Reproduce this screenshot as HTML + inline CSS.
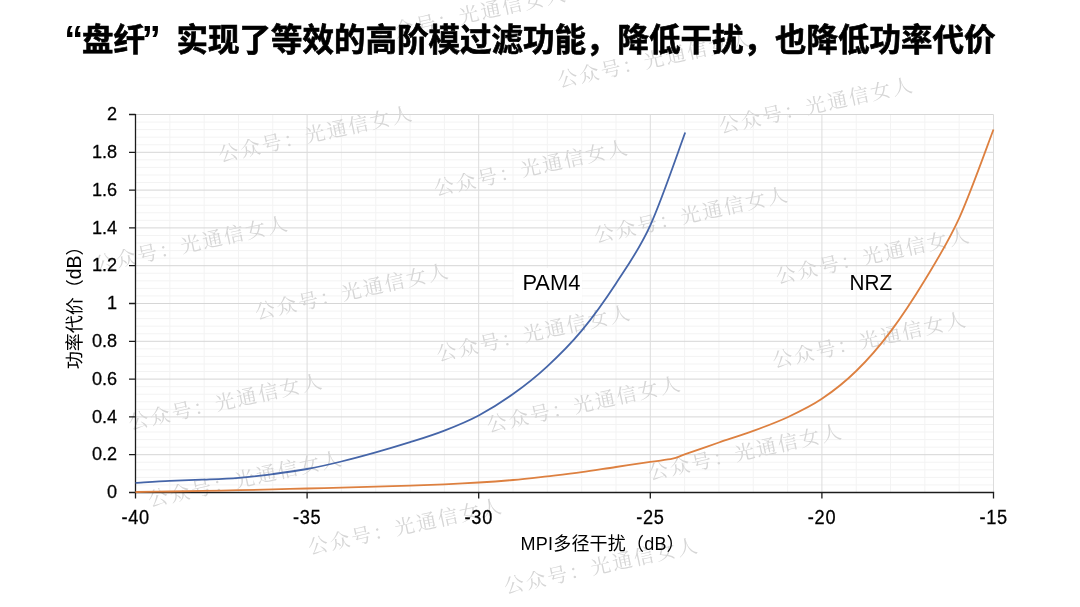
<!DOCTYPE html>
<html lang="zh-CN"><head><meta charset="utf-8"><title>盘纤 MPI 功率代价</title>
<style>
html,body{margin:0;padding:0;background:#fff;}
body{width:1080px;height:607px;overflow:hidden;position:relative;font-family:"Liberation Sans","Noto Sans CJK SC",sans-serif;}
svg{position:absolute;left:0;top:0;display:block;}
.t{font-family:"Liberation Sans","Noto Sans CJK SC",sans-serif;fill:#000;}
.n{stroke:#000;stroke-width:0.25px;}
.ttl{font-family:"Liberation Sans","Noto Sans CJK SC",sans-serif;font-weight:bold;fill:#000;font-size:31.5px;}
.wm{font-family:"Liberation Serif","Noto Serif CJK SC",serif;font-size:20px;fill:#d6d6d6;}
</style></head><body>
<svg width="1080" height="607" viewBox="0 0 1080 607">
<rect x="0" y="0" width="1080" height="607" fill="#ffffff"/>
<path d="M135.50,484.94H993.50M135.50,477.38H993.50M135.50,469.82H993.50M135.50,462.26H993.50M135.50,447.14H993.50M135.50,439.58H993.50M135.50,432.02H993.50M135.50,424.46H993.50M135.50,409.34H993.50M135.50,401.78H993.50M135.50,394.22H993.50M135.50,386.66H993.50M135.50,371.54H993.50M135.50,363.98H993.50M135.50,356.42H993.50M135.50,348.86H993.50M135.50,333.74H993.50M135.50,326.18H993.50M135.50,318.62H993.50M135.50,311.06H993.50M135.50,295.94H993.50M135.50,288.38H993.50M135.50,280.82H993.50M135.50,273.26H993.50M135.50,258.14H993.50M135.50,250.58H993.50M135.50,243.02H993.50M135.50,235.46H993.50M135.50,220.34H993.50M135.50,212.78H993.50M135.50,205.22H993.50M135.50,197.66H993.50M135.50,182.54H993.50M135.50,174.98H993.50M135.50,167.42H993.50M135.50,159.86H993.50M135.50,144.74H993.50M135.50,137.18H993.50M135.50,129.62H993.50M135.50,122.06H993.50" stroke="#f3f3f3" stroke-width="1" fill="none"/>
<path d="M169.82,114.50V492.50M204.14,114.50V492.50M238.46,114.50V492.50M272.78,114.50V492.50M341.42,114.50V492.50M375.74,114.50V492.50M410.06,114.50V492.50M444.38,114.50V492.50M513.02,114.50V492.50M547.34,114.50V492.50M581.66,114.50V492.50M615.98,114.50V492.50M684.62,114.50V492.50M718.94,114.50V492.50M753.26,114.50V492.50M787.58,114.50V492.50M856.22,114.50V492.50M890.54,114.50V492.50M924.86,114.50V492.50M959.18,114.50V492.50" stroke="#f3f3f3" stroke-width="1" fill="none"/>
<path d="M135.50,454.70H993.50M135.50,416.90H993.50M135.50,379.10H993.50M135.50,341.30H993.50M135.50,303.50H993.50M135.50,265.70H993.50M135.50,227.90H993.50M135.50,190.10H993.50M135.50,152.30H993.50M135.50,114.50H993.50" stroke="#d6d6d6" stroke-width="1" fill="none"/>
<path d="M307.10,114.50V492.50M478.70,114.50V492.50M650.30,114.50V492.50M821.90,114.50V492.50M993.50,114.50V492.50" stroke="#dcdcdc" stroke-width="1" fill="none"/>
<rect x="514" y="268" width="68" height="33" fill="#ffffff"/>
<text class="wm" transform="translate(468.3,16.7) rotate(-12.3)" x="1" y="5.2" text-anchor="middle" textLength="197" lengthAdjust="spacing">公众号：光通信女人</text>
<text class="wm" transform="translate(653.3,61.7) rotate(-12.3)" x="1" y="5.2" text-anchor="middle" textLength="197" lengthAdjust="spacing">公众号：光通信女人</text>
<text class="wm" transform="translate(815.0,107.5) rotate(-12.3)" x="1" y="5.2" text-anchor="middle" textLength="197" lengthAdjust="spacing">公众号：光通信女人</text>
<text class="wm" transform="translate(314.5,136.1) rotate(-12.3)" x="1" y="5.2" text-anchor="middle" textLength="197" lengthAdjust="spacing">公众号：光通信女人</text>
<text class="wm" transform="translate(530.0,170.0) rotate(-12.3)" x="1" y="5.2" text-anchor="middle" textLength="197" lengthAdjust="spacing">公众号：光通信女人</text>
<text class="wm" transform="translate(690.0,217.0) rotate(-12.3)" x="1" y="5.2" text-anchor="middle" textLength="197" lengthAdjust="spacing">公众号：光通信女人</text>
<text class="wm" transform="translate(871.7,257.8) rotate(-12.3)" x="1" y="5.2" text-anchor="middle" textLength="197" lengthAdjust="spacing">公众号：光通信女人</text>
<text class="wm" transform="translate(190.0,246.2) rotate(-12.3)" x="1" y="5.2" text-anchor="middle" textLength="197" lengthAdjust="spacing">公众号：光通信女人</text>
<text class="wm" transform="translate(350.8,293.7) rotate(-12.3)" x="1" y="5.2" text-anchor="middle" textLength="197" lengthAdjust="spacing">公众号：光通信女人</text>
<text class="wm" transform="translate(532.5,335.3) rotate(-12.3)" x="1" y="5.2" text-anchor="middle" textLength="197" lengthAdjust="spacing">公众号：光通信女人</text>
<text class="wm" transform="translate(868.3,342.0) rotate(-12.3)" x="1" y="5.2" text-anchor="middle" textLength="197" lengthAdjust="spacing">公众号：光通信女人</text>
<text class="wm" transform="translate(224.4,403.9) rotate(-12.3)" x="1" y="5.2" text-anchor="middle" textLength="197" lengthAdjust="spacing">公众号：光通信女人</text>
<text class="wm" transform="translate(582.7,406.4) rotate(-12.3)" x="1" y="5.2" text-anchor="middle" textLength="197" lengthAdjust="spacing">公众号：光通信女人</text>
<text class="wm" transform="translate(744.0,454.2) rotate(-12.3)" x="1" y="5.2" text-anchor="middle" textLength="197" lengthAdjust="spacing">公众号：光通信女人</text>
<text class="wm" transform="translate(244.0,481.0) rotate(-12.3)" x="1" y="5.2" text-anchor="middle" textLength="197" lengthAdjust="spacing">公众号：光通信女人</text>
<text class="wm" transform="translate(404.0,528.6) rotate(-12.3)" x="1" y="5.2" text-anchor="middle" textLength="197" lengthAdjust="spacing">公众号：光通信女人</text>
<text class="wm" transform="translate(600.0,568.0) rotate(-12.3)" x="1" y="5.2" text-anchor="middle" textLength="197" lengthAdjust="spacing">公众号：光通信女人</text>
<path d="M135.50,114.00V498.50M129.00,492.50H994.20M129.00,492.50H135.50M129.00,454.70H135.50M129.00,416.90H135.50M129.00,379.10H135.50M129.00,341.30H135.50M129.00,303.50H135.50M129.00,265.70H135.50M129.00,227.90H135.50M129.00,190.10H135.50M129.00,152.30H135.50M129.00,114.50H135.50M135.50,492.50V498.50M307.10,492.50V498.50M478.70,492.50V498.50M650.30,492.50V498.50M821.90,492.50V498.50M993.50,492.50V498.50" stroke="#1c1c1c" stroke-width="1.3" fill="none"/>
<path d="M135.5,492.0 C141.2,491.9 158.4,491.7 169.8,491.5 C181.3,491.3 192.7,491.1 204.1,490.9 C215.6,490.7 227.0,490.4 238.5,490.2 C249.9,489.9 261.3,489.7 272.8,489.4 C284.2,489.1 295.7,488.8 307.1,488.5 C318.5,488.2 330.0,488.0 341.4,487.7 C352.9,487.4 364.3,487.0 375.7,486.7 C387.2,486.4 398.6,486.0 410.1,485.6 C421.5,485.2 432.9,484.8 444.4,484.3 C455.8,483.8 467.3,483.2 478.7,482.5 C490.1,481.8 501.6,481.0 513.0,480.0 C524.5,479.0 535.9,477.6 547.3,476.3 C558.8,475.0 570.2,473.8 581.7,472.2 C593.1,470.6 604.5,468.7 616.0,467.0 C627.4,465.3 640.9,463.3 650.3,461.9 C659.7,460.5 666.9,459.9 672.6,458.7 C678.3,457.4 676.9,457.1 684.6,454.4 C692.3,451.7 707.5,446.4 718.9,442.5 C730.4,438.6 741.8,435.1 753.3,430.9 C764.7,426.7 776.1,422.5 787.6,417.2 C799.0,411.9 810.5,406.5 821.9,398.8 C833.3,391.1 844.8,382.2 856.2,371.0 C867.7,359.8 879.1,346.8 890.5,331.6 C902.0,316.4 913.4,298.9 924.9,280.0 C936.3,261.1 947.7,243.2 959.2,218.1 C970.6,193.0 987.8,144.3 993.5,129.5" stroke="#dd8040" stroke-width="1.8" fill="none" stroke-linejoin="round" stroke-linecap="butt"/>
<path d="M135.5,482.8 C141.2,482.5 158.4,481.4 169.8,480.9 C181.3,480.4 192.7,480.1 204.1,479.6 C215.6,479.1 227.0,478.7 238.5,477.8 C249.9,476.9 261.3,475.6 272.8,474.1 C284.2,472.6 295.7,471.1 307.1,469.0 C318.5,466.9 330.0,464.3 341.4,461.5 C352.9,458.7 364.3,455.6 375.7,452.4 C387.2,449.2 398.6,445.8 410.1,442.2 C421.5,438.6 432.9,435.1 444.4,430.6 C455.8,426.2 467.3,421.6 478.7,415.5 C490.1,409.4 501.6,402.2 513.0,394.0 C524.5,385.8 535.9,376.9 547.3,366.3 C558.8,355.8 570.2,344.5 581.7,330.7 C593.1,316.9 604.5,301.1 616.0,283.5 C627.4,265.9 638.8,250.5 650.3,225.3 C661.8,200.1 679.4,148.0 685.2,132.5" stroke="#4565a8" stroke-width="1.8" fill="none" stroke-linejoin="round" stroke-linecap="butt"/>
<text class="t n" transform="translate(117.2,498.2) scale(1.03,1.08)" font-size="17.6" text-anchor="end">0</text>
<text class="t n" transform="translate(117.2,460.4) scale(1.03,1.08)" font-size="17.6" text-anchor="end">0.2</text>
<text class="t n" transform="translate(117.2,422.6) scale(1.03,1.08)" font-size="17.6" text-anchor="end">0.4</text>
<text class="t n" transform="translate(117.2,384.8) scale(1.03,1.08)" font-size="17.6" text-anchor="end">0.6</text>
<text class="t n" transform="translate(117.2,347.0) scale(1.03,1.08)" font-size="17.6" text-anchor="end">0.8</text>
<text class="t n" transform="translate(117.2,309.2) scale(1.03,1.08)" font-size="17.6" text-anchor="end">1</text>
<text class="t n" transform="translate(117.2,271.4) scale(1.03,1.08)" font-size="17.6" text-anchor="end">1.2</text>
<text class="t n" transform="translate(117.2,233.6) scale(1.03,1.08)" font-size="17.6" text-anchor="end">1.4</text>
<text class="t n" transform="translate(117.2,195.8) scale(1.03,1.08)" font-size="17.6" text-anchor="end">1.6</text>
<text class="t n" transform="translate(117.2,158.0) scale(1.03,1.08)" font-size="17.6" text-anchor="end">1.8</text>
<text class="t n" transform="translate(117.2,120.2) scale(1.03,1.08)" font-size="17.6" text-anchor="end">2</text>
<text class="t n" transform="translate(135.6,524.1) scale(1,1.08)" font-size="18.2" text-anchor="middle" letter-spacing="0.7">-40</text>
<text class="t n" transform="translate(307.2,524.1) scale(1,1.08)" font-size="18.2" text-anchor="middle" letter-spacing="0.7">-35</text>
<text class="t n" transform="translate(478.8,524.1) scale(1,1.08)" font-size="18.2" text-anchor="middle" letter-spacing="0.7">-30</text>
<text class="t n" transform="translate(650.4,524.1) scale(1,1.08)" font-size="18.2" text-anchor="middle" letter-spacing="0.7">-25</text>
<text class="t n" transform="translate(822.0,524.1) scale(1,1.08)" font-size="18.2" text-anchor="middle" letter-spacing="0.7">-20</text>
<text class="t n" transform="translate(993.6,524.1) scale(1,1.08)" font-size="18.2" text-anchor="middle" letter-spacing="0.7">-15</text>
<text class="t" x="520.6" y="550" font-size="18" letter-spacing="0.2">MPI多径干扰（dB）</text>
<text class="t" transform="translate(81.2,369.3) rotate(-90)" font-size="18">功率代价（<tspan font-size="19.4">dB</tspan>）</text>
<text class="t" x="522.4" y="290.3" font-size="21.4" textLength="58" lengthAdjust="spacingAndGlyphs">PAM4</text>
<text class="t" x="849.6" y="290.3" font-size="21.4" textLength="42.6" lengthAdjust="spacingAndGlyphs">NRZ</text>
<text class="ttl" x="64.3" y="53.3" style="font-size:38px">“</text>
<text class="ttl" x="82" y="51" stroke="#000" stroke-width="0.7">盘纤</text>
<text class="ttl" x="141.8" y="53.3" style="font-size:38px">”</text>
<text class="ttl" x="176.5" y="51" stroke="#000" stroke-width="0.7">实现了等效的高阶模过滤功能，降低干扰，也降低功率代价</text>
</svg>
</body></html>
